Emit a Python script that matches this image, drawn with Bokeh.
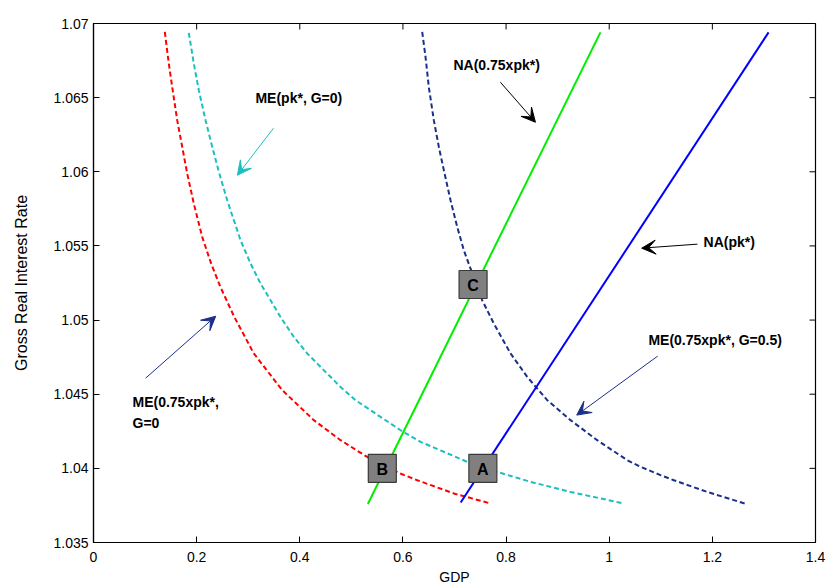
import math
from bokeh.plotting import figure
from bokeh.models import Range1d, Arrow, VeeHead, Label, FixedTicker, ColumnDataSource
from bokeh.core.properties import value
from bokeh.embed import file_html
from bokeh.resources import INLINE

# ---------------- data ----------------
x_ticks = [0, 0.2, 0.4, 0.6, 0.8, 1.0, 1.2, 1.4]
x_tick_labels = ["0", "0.2", "0.4", "0.6", "0.8", "1", "1.2", "1.4"]
y_ticks = [1.035, 1.04, 1.045, 1.05, 1.055, 1.06, 1.065, 1.07]
y_tick_labels = ["1.035", "1.04", "1.045", "1.05", "1.055", "1.06", "1.065", "1.07"]

# ME(0.75xpk*, G=0)  red dashed
me_075_g0_x = [0.1383, 0.1460, 0.1526, 0.1623, 0.1720, 0.1817, 0.1945, 0.2108, 0.2280, 0.2460,
               0.2730, 0.3108, 0.3660, 0.4272, 0.4790, 0.5307, 0.5950, 0.6277,
               0.6987, 0.7698]
me_075_g0_y = [1.06943, 1.06730, 1.06572, 1.06348, 1.06168, 1.05988, 1.05786, 1.05561, 1.05382, 1.05224,
               1.05021, 1.04775, 1.04527, 1.04325, 1.04190, 1.04077, 1.03965, 1.03920,
               1.03831, 1.03763]

# ME(pk*, G=0)  cyan dashed
me_pk_g0_x = [0.1848, 0.1945, 0.2042, 0.2172, 0.2302, 0.2440, 0.2593, 0.2721, 0.2851, 0.3044,
              0.3238, 0.3432, 0.3626, 0.3884, 0.4144, 0.4466, 0.4790, 0.5080, 0.5953, 0.6341,
              0.7247, 0.7828, 0.8474, 0.9250, 1.0283]
me_pk_g0_y = [1.06937, 1.06730, 1.06550, 1.06348, 1.06168, 1.05988, 1.05808, 1.05674, 1.05539, 1.05382,
              1.05247, 1.05134, 1.05021, 1.04887, 1.04775, 1.04662, 1.04549, 1.04460, 1.04257, 1.04179,
              1.04044, 1.03976, 1.03909, 1.03841, 1.03763]

# ME(0.75xpk*, G=0.5)  navy dashed
me_075_g05_x = [0.6374, 0.6438, 0.6502, 0.6599, 0.6696, 0.6793, 0.6923, 0.7053, 0.7181, 0.7310,
                0.7537, 0.7762, 0.8086, 0.8410, 0.8798, 0.9250, 0.9767, 1.0349, 1.0607, 1.0995,
                1.1253, 1.1900, 1.2676]
me_075_g05_y = [1.06943, 1.06775, 1.06572, 1.06348, 1.06168, 1.06011, 1.05808, 1.05628, 1.05471, 1.05348,
                1.05134, 1.04977, 1.04775, 1.04617, 1.04460, 1.04325, 1.04190, 1.04055, 1.04011, 1.03954,
                1.03920, 1.03841, 1.03758]

# NA(0.75xpk*)  green solid
na_075_x = [0.532, 0.983]
na_075_y = [1.0376, 1.0694]

# NA(pk*)  blue solid
na_pk_x = [0.712, 1.309]
na_pk_y = [1.0377, 1.0694]

# equilibrium points
eq_names = ["A", "B", "C"]
eq_x = [0.755, 0.560, 0.736]
eq_y = [1.0400, 1.0400, 1.0524]

# ---------------- styling ----------------
FONT = "Liberation Sans"
RED = "#ff0000"
CYAN = "#1cbfbf"
NAVY = "#1a2f8a"
GREEN = "#00ee00"
BLUE = "#0000ff"

p = figure(width=827, height=588, x_range=Range1d(0, 1.4), y_range=Range1d(1.035, 1.07),
           output_backend="svg", toolbar_location=None, tools="",
           min_border_left=93, min_border_right=12, min_border_top=23, min_border_bottom=46)
p.background_fill_color = "white"
p.border_fill_color = "white"
p.xgrid.visible = False
p.ygrid.visible = False
p.outline_line_color = "black"
p.outline_line_width = 1.2

def style_axis(ax):
    ax.axis_line_color = "black"
    ax.axis_line_width = 1.2
    ax.major_tick_in = 6
    ax.major_tick_out = 0
    ax.minor_tick_in = 0
    ax.minor_tick_out = 0
    ax.major_tick_line_color = "black"
    ax.major_label_text_font = FONT
    ax.major_label_text_font_size = "14px"
    ax.major_label_text_color = "black"
    ax.axis_label_text_font = FONT
    ax.axis_label_text_font_style = "normal"
    ax.axis_label_text_color = "black"

xa = p.xaxis[0]
xa.ticker = FixedTicker(ticks=x_ticks)
xa.major_label_overrides = dict(zip(x_ticks, x_tick_labels))
style_axis(xa)
xa.major_label_standoff = 9
xa.axis_label = "GDP"
xa.axis_label_text_font_size = "14px"
xa.axis_label_standoff = 4

ya = p.yaxis[0]
ya.ticker = FixedTicker(ticks=y_ticks)
ya.major_label_overrides = dict(zip(y_ticks, y_tick_labels))
style_axis(ya)
ya.major_label_standoff = 5
ya.axis_label = "Gross Real Interest Rate"
ya.axis_label_text_font_size = "16px"
ya.axis_label_standoff = 20

# inward ticks on the top and right frame edges (box style)
y_top = p.y_range.end
x_right = p.x_range.end
p.ray(x=x_ticks, y=[y_top] * len(x_ticks), length=6, length_units="screen",
      angle=-math.pi / 2, line_color="black", line_width=1)
p.ray(x=[x_right] * len(y_ticks), y=y_ticks, length=6, length_units="screen",
      angle=math.pi, line_color="black", line_width=1)

# ---------------- curves ----------------
p.line(me_075_g0_x, me_075_g0_y, line_color=RED, line_width=2, line_dash="5 3")
p.line(me_pk_g0_x, me_pk_g0_y, line_color=CYAN, line_width=2, line_dash="5 3")
p.line(me_075_g05_x, me_075_g05_y, line_color=NAVY, line_width=2, line_dash="5 3")
p.line(na_075_x, na_075_y, line_color=GREEN, line_width=2)
p.line(na_pk_x, na_pk_y, line_color=BLUE, line_width=2)

src = ColumnDataSource(dict(x=eq_x, y=eq_y, name=eq_names))
p.scatter("x", "y", source=src, marker="square", size=28, fill_color="#808080",
          line_color="#3a3a3a", line_width=1.2)
p.text("x", "y", text="name", source=src, text_align="center", text_baseline="middle",
       text_font=value(FONT), text_font_style="bold", text_font_size="16px", text_color="black",
       y_offset=1)

# ---------------- annotations ----------------
def arrow(x0, y0, x1, y1, color):
    p.add_layout(Arrow(end=VeeHead(size=14, fill_color=color, line_color=color, line_width=1),
                       x_start=x0, y_start=y0, x_end=x1, y_end=y1,
                       line_color=color, line_width=1))

def label(x, y, text):
    p.add_layout(Label(x=x, y=y, text=text, text_font=FONT, text_font_style="bold",
                       text_font_size="14px", text_baseline="middle", text_color="black"))

label(0.314, 1.06496, "ME(pk*, G=0)")
arrow(0.349, 1.06294, 0.279, 1.05977, CYAN)

label(0.698, 1.06719, "NA(0.75xpk*)")
arrow(0.789, 1.06604, 0.857, 1.06334, "black")

label(1.183, 1.05525, "NA(pk*)")
arrow(1.171, 1.05512, 1.063, 1.05485, "black")

label(1.076, 1.04864, "ME(0.75xpk*, G=0.5)")
arrow(1.094, 1.04757, 0.937, 1.04359, NAVY)

label(0.0756, 1.04446, "ME(0.75xpk*,")
label(0.0756, 1.04304, "G=0")
arrow(0.101, 1.04608, 0.237, 1.05026, NAVY)

open("out.html", "w").write(file_html(p, INLINE))
